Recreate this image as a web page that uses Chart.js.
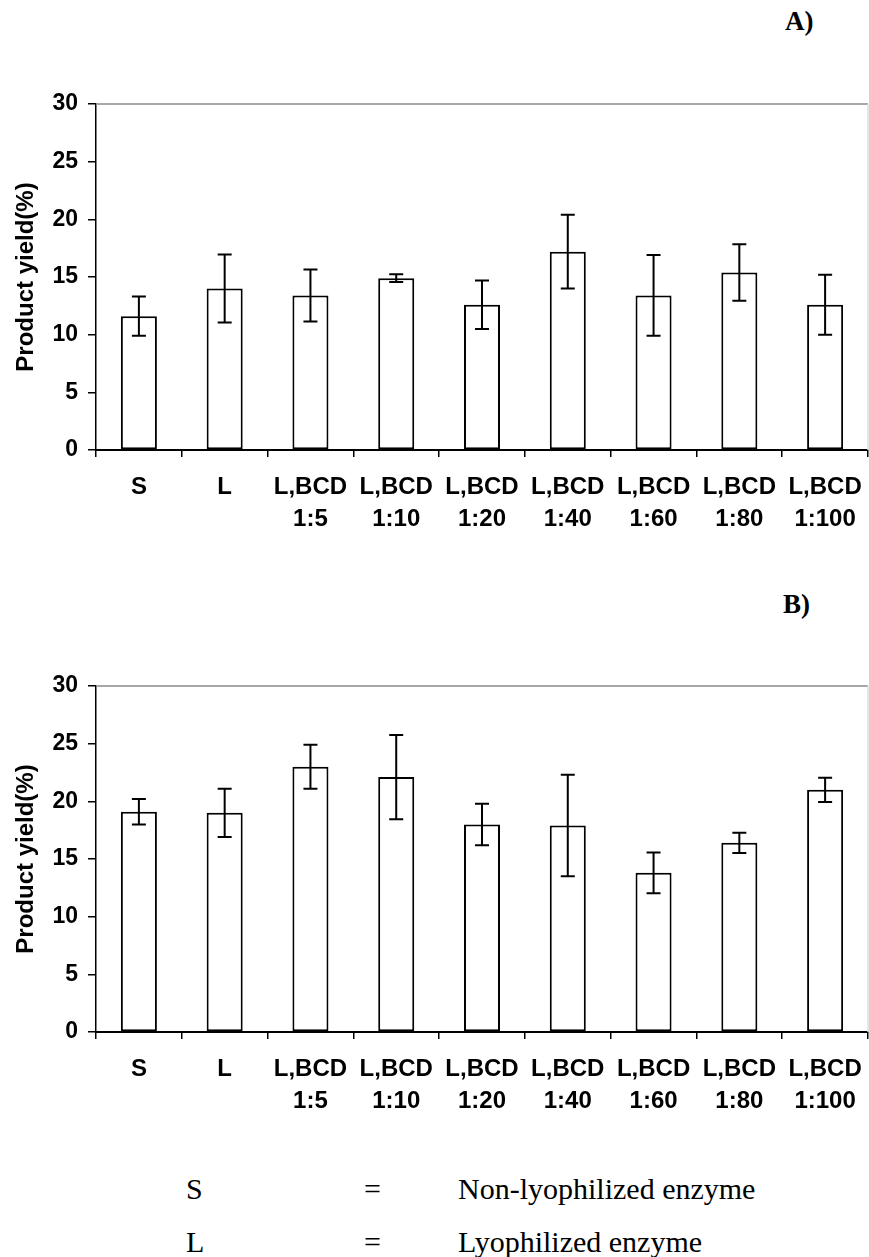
<!DOCTYPE html>
<html>
<head>
<meta charset="utf-8">
<script src="https://cdn.jsdelivr.net/npm/chart.js@4.4.1/dist/chart.umd.min.js"></script>
<style>
  html, body { margin: 0; padding: 0; background: #fff; }
  body { width: 869px; height: 1257px; position: relative; overflow: hidden; }
  .panel { position: absolute; left: 0; width: 869px; height: 470px; }
  .tag { position: absolute; font-family: "Liberation Serif", "Times New Roman", serif; font-weight: bold; font-size: 27px; color: #000; line-height: 1; }
  .key { position: absolute; font-family: "Liberation Serif", "Times New Roman", serif; font-size: 30px; color: #000; line-height: 1; white-space: nowrap; }
</style>
</head>
<body>
<div class="tag" style="left:785px; top:8px;">A)</div>
<div class="panel" style="top:80px;"><canvas id="chartA" width="869" height="470"></canvas></div>
<div class="tag" style="left:783px; top:591px;">B)</div>
<div class="panel" style="top:662px;"><canvas id="chartB" width="869" height="470"></canvas></div>

<div class="key" style="left:186px; top:1174px;">S</div>
<div class="key" style="left:364px; top:1174px;">=</div>
<div class="key" style="left:458px; top:1174px;">Non-lyophilized enzyme</div>
<div class="key" style="left:186px; top:1227px;">L</div>
<div class="key" style="left:364px; top:1227px;">=</div>
<div class="key" style="left:458px; top:1227px;">Lyophilized enzyme</div>

<script>
// Enzyme preparations (S = non-lyophilized, L = lyophilized, L,BCD = lyophilized with beta-cyclodextrin)
const categories = [
  ['S'], ['L'],
  ['L,BCD', '1:5'], ['L,BCD', '1:10'], ['L,BCD', '1:20'], ['L,BCD', '1:40'],
  ['L,BCD', '1:60'], ['L,BCD', '1:80'], ['L,BCD', '1:100']
];

// Panel A: mean product yield (%) and standard deviation
const yieldA = [11.6, 14.0, 13.4, 14.9, 12.6, 17.2, 13.4, 15.4, 12.6];
const errA   = [1.7, 2.95, 2.25, 0.33, 2.1, 3.2, 3.5, 2.45, 2.6];

// Panel B: mean product yield (%) and standard deviation
const yieldB = [19.1, 19.0, 23.0, 22.1, 18.0, 17.9, 13.8, 16.4, 21.0];
const errB   = [1.1, 2.1, 1.9, 3.65, 1.8, 4.4, 1.77, 0.88, 1.05];

const yTicks = [0, 5, 10, 15, 20, 25, 30];

const sansBold = '"Liberation Sans", Arial, sans-serif';

// Draws the gray frame on the top and right sides of the plot area
const frame = {
  id: 'frame',
  beforeDatasetsDraw(chart) {
    const { ctx, chartArea: a } = chart;
    ctx.save();
    ctx.lineWidth = 1.5;
    ctx.strokeStyle = '#8a8a8a';
    ctx.beginPath();
    ctx.moveTo(a.left, a.top);
    ctx.lineTo(a.right, a.top);
    ctx.stroke();
    ctx.strokeStyle = '#dcdcdc';
    ctx.beginPath();
    ctx.moveTo(a.right, a.top);
    ctx.lineTo(a.right, a.bottom);
    ctx.stroke();
    ctx.restore();
  }
};

// Draws a symmetric error bar with caps on every bar, using the y scale
const errorBars = {
  id: 'errorBars',
  afterDatasetsDraw(chart) {
    const { ctx } = chart;
    const yScale = chart.scales.y;
    chart.data.datasets.forEach((ds, di) => {
      const meta = chart.getDatasetMeta(di);
      meta.data.forEach((bar, i) => {
        const v = ds.data[i], e = ds.errors[i];
        const x = bar.x;
        const yHi = yScale.getPixelForValue(v + e);
        const yLo = yScale.getPixelForValue(v - e);
        const cap = 7;
        ctx.save();
        ctx.strokeStyle = '#000';
        ctx.lineWidth = 2;
        ctx.beginPath();
        ctx.moveTo(x, yHi); ctx.lineTo(x, yLo);
        ctx.moveTo(x - cap, yHi); ctx.lineTo(x + cap, yHi);
        ctx.moveTo(x - cap, yLo); ctx.lineTo(x + cap, yLo);
        ctx.stroke();
        ctx.restore();
      });
    });
  }
};

function makeChart(id, values, errors) {
  return new Chart(document.getElementById(id), {
    type: 'bar',
    data: {
      labels: categories,
      datasets: [{
        data: values,
        errors: errors,
        backgroundColor: '#ffffff',
        borderColor: '#000000',
        borderWidth: 2,
        borderSkipped: false,
        categoryPercentage: 1.0,
        barPercentage: 0.42
      }]
    },
    options: {
      responsive: false,
      animation: false,
      events: [],
      layout: { padding: { top: 24, right: 1, left: 0, bottom: 0 } },
      plugins: { legend: { display: false }, tooltip: { enabled: false } },
      scales: {
        x: {
          grid: { display: true, drawOnChartArea: false, drawTicks: true, tickLength: 7, color: '#000', lineWidth: 1.5, offset: true },
          border: { display: true, color: '#000', width: 2 },
          ticks: { color: '#000', font: { family: sansBold, weight: 'bold', size: 24, lineHeight: 1.33 }, padding: 14, maxRotation: 0, autoSkip: false },
          afterFit(scale) {
            scale.height = 100;
            scale.paddingLeft = 0;
            scale.paddingRight = 0;
          }
        },
        y: {
          min: 0, max: 30,
          afterBuildTicks(scale) { scale.ticks = yTicks.map(v => ({ value: v })); },
          grid: { display: true, drawOnChartArea: false, drawTicks: true, tickLength: 8, color: '#000', lineWidth: 1.5 },
          border: { display: true, color: '#000', width: 1.5 },
          ticks: { color: '#000', font: { family: sansBold, weight: 'bold', size: 23 }, padding: 10 },
          title: { display: true, text: 'Product yield(%)', color: '#000', font: { family: sansBold, weight: 'bold', size: 24 }, padding: { top: 12, bottom: 0 } },
          afterFit(scale) { scale.width = 96; }
        }
      }
    },
    plugins: [frame, errorBars]
  });
}

makeChart('chartA', yieldA, errA);
makeChart('chartB', yieldB, errB);
</script>
</body>
</html>
